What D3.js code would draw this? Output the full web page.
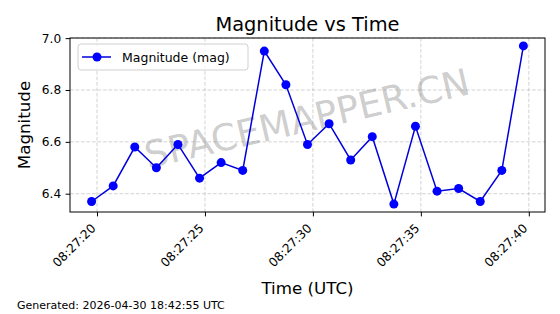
<!DOCTYPE html>
<html>
<head>
<meta charset="utf-8">
<script src="https://cdn.jsdelivr.net/npm/d3@7"></script>
<style>
  body { margin: 0; background: #fff; }
  svg { font-family: "DejaVu Sans", sans-serif; }
</style>
</head>
<body>
<div id="chart"></div>
<script>
const width = 560;
const height = 314;
const margin = { top: 38, right: 15, bottom: 102, left: 70 };

// observation times (seconds after 08:27:00 UTC) and magnitudes
const seconds = [19.75, 20.75, 21.75, 22.75, 23.75, 24.75, 25.75, 26.75, 27.75, 28.75,
  29.75, 30.75, 31.75, 32.75, 33.75, 34.75, 35.75, 36.75, 37.75, 38.75, 39.75];
const magnitudes = [6.37, 6.43, 6.58, 6.50, 6.59, 6.46, 6.52, 6.49, 6.95, 6.82,
  6.59, 6.67, 6.53, 6.62, 6.36, 6.66, 6.41, 6.42, 6.37, 6.49, 6.97];
const yTicks = [6.4, 6.6, 6.8, 7.0];
const xTickSeconds = [20, 25, 30, 35, 40];

const base = Date.UTC(2026, 3, 30, 8, 27, 0);
const times = seconds.map(s => new Date(base + s * 1000));
const data = times.map((t, i) => ({ t, v: magnitudes[i] }));

const svg = d3.select("#chart").append("svg")
  .attr("width", width)
  .attr("height", height);

const innerW = width - margin.left - margin.right;
const innerH = height - margin.top - margin.bottom;

const tMin = d3.min(times), tMax = d3.max(times);
const tPad = (tMax - tMin) * 0.05;
const x = d3.scaleUtc()
  .domain([new Date(+tMin - tPad), new Date(+tMax + tPad)])
  .range([margin.left, margin.left + innerW]);

const vMin = d3.min(magnitudes), vMax = d3.max(magnitudes);
const vPad = (vMax - vMin) * 0.05;
const y = d3.scaleLinear()
  .domain([vMin - vPad, vMax + vPad])
  .range([margin.top + innerH, margin.top]);

const xTicks = xTickSeconds.map(s => new Date(base + s * 1000));
const fmt = d3.utcFormat("%H:%M:%S");

// grid
const grid = svg.append("g");
grid.selectAll(".gx").data(xTicks).enter().append("line")
  .attr("x1", d => x(d)).attr("x2", d => x(d))
  .attr("y1", margin.top).attr("y2", margin.top + innerH)
  .attr("stroke", "#b0b0b0").attr("stroke-opacity", 0.7)
  .attr("stroke-width", 0.8).attr("stroke-dasharray", "3.7,1.8");
grid.selectAll(".gy").data(yTicks).enter().append("line")
  .attr("x1", margin.left).attr("x2", margin.left + innerW)
  .attr("y1", d => y(d)).attr("y2", d => y(d))
  .attr("stroke", "#b0b0b0").attr("stroke-opacity", 0.7)
  .attr("stroke-width", 0.8).attr("stroke-dasharray", "3.7,1.8");

// watermark
const wx = margin.left + innerW / 2, wy = 121;
svg.append("text")
  .attr("x", wx)
  .attr("y", wy)
  .attr("transform", `rotate(-13, ${wx}, ${wy})`)
  .attr("text-anchor", "middle")
  .attr("dominant-baseline", "middle")
  .attr("font-size", 37)
  .attr("fill", "#808080")
  .attr("fill-opacity", 0.4)
  .text("SPACEMAPPER.CN");

// line + markers
svg.append("path")
  .datum(data)
  .attr("fill", "none")
  .attr("stroke", "#0000dd")
  .attr("stroke-width", 1.5)
  .attr("d", d3.line().x(d => x(d.t)).y(d => y(d.v)));

svg.selectAll(".pt").data(data).enter().append("circle")
  .attr("cx", d => x(d.t))
  .attr("cy", d => y(d.v))
  .attr("r", 4.5)
  .attr("fill", "#0000ff");

// axes
const xAxis = svg.append("g")
  .attr("transform", `translate(0,${margin.top + innerH})`)
  .call(d3.axisBottom(x).tickValues(xTicks).tickFormat(fmt).tickSize(4.4));
xAxis.select(".domain").remove();
xAxis.selectAll("text")
  .attr("font-size", 12.2)
  .attr("font-family", "DejaVu Sans")
  .attr("fill", "#000")
  .attr("text-anchor", "end")
  .attr("x", 0).attr("y", 0).attr("dy", null)
  .attr("transform", "translate(-1,17) rotate(-45)");

const yAxis = svg.append("g")
  .attr("transform", `translate(${margin.left},0)`)
  .call(d3.axisLeft(y).tickValues(yTicks).tickFormat(d3.format(".1f")).tickSize(4.4).tickPadding(4.4));
yAxis.select(".domain").remove();
yAxis.selectAll("text")
  .attr("font-size", 12.2)
  .attr("font-family", "DejaVu Sans")
  .attr("fill", "#000");

svg.append("rect")
  .attr("x", margin.left).attr("y", margin.top)
  .attr("width", innerW).attr("height", innerH)
  .attr("fill", "none").attr("stroke", "#000").attr("stroke-width", 1);

// labels
svg.append("text")
  .attr("x", margin.left + innerW / 2).attr("y", 31)
  .attr("text-anchor", "middle").attr("font-size", 19.4)
  .text("Magnitude vs Time");

svg.append("text")
  .attr("x", margin.left + innerW / 2).attr("y", 294)
  .attr("text-anchor", "middle").attr("font-size", 16.7)
  .text("Time (UTC)");

svg.append("text")
  .attr("transform", `translate(30,${margin.top + innerH / 2}) rotate(-90)`)
  .attr("text-anchor", "middle").attr("font-size", 16.7)
  .text("Magnitude");

svg.append("text")
  .attr("x", 17).attr("y", 309)
  .attr("font-size", 11)
  .text("Generated: 2026-04-30 18:42:55 UTC");

// legend
const lg = svg.append("g");
lg.append("rect")
  .attr("x", 78).attr("y", 44).attr("width", 170).attr("height", 26)
  .attr("rx", 3).attr("fill", "#fff").attr("fill-opacity", 0.8)
  .attr("stroke", "#d0d0d0");
lg.append("line")
  .attr("x1", 82).attr("x2", 111).attr("y1", 57).attr("y2", 57)
  .attr("stroke", "#0000dd").attr("stroke-width", 1.5);
lg.append("circle").attr("cx", 97).attr("cy", 57).attr("r", 4.5).attr("fill", "#0000ff");
lg.append("text")
  .attr("x", 122).attr("y", 61.5).attr("font-size", 12.5)
  .text("Magnitude (mag)");
</script>
</body>
</html>
